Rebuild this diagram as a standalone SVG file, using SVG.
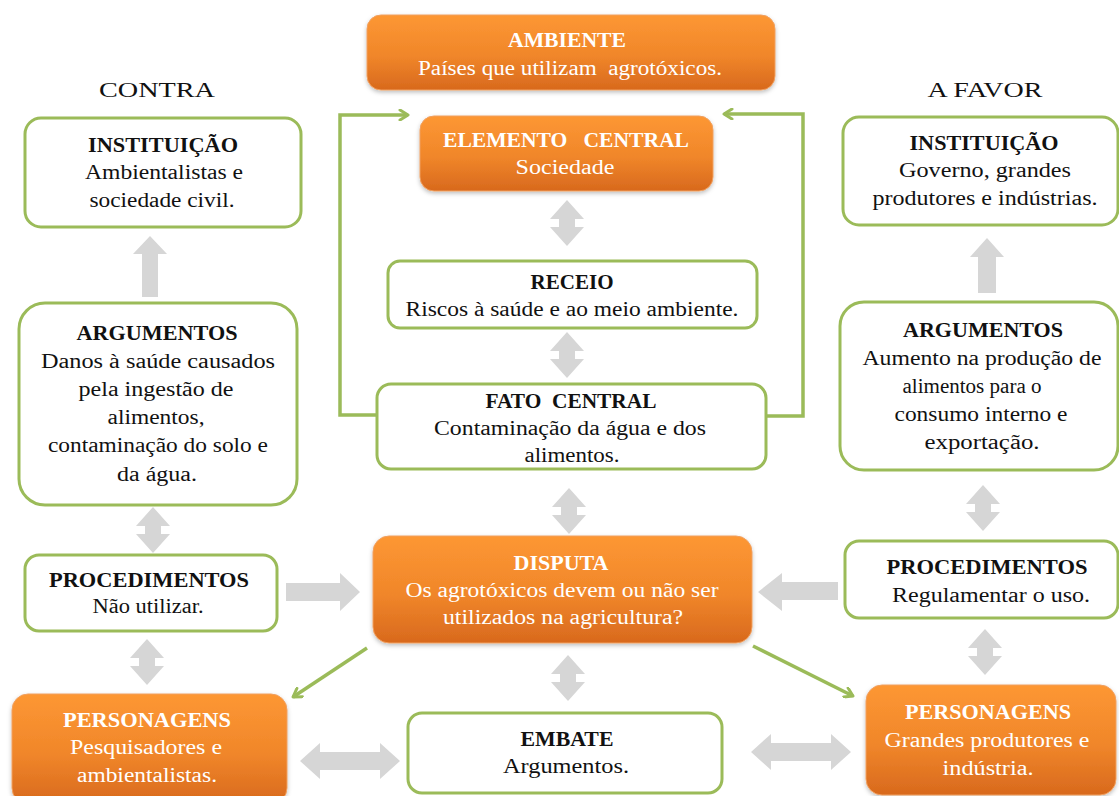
<svg xmlns="http://www.w3.org/2000/svg" width="1119" height="796" viewBox="0 0 1119 796">
  <defs>
    <linearGradient id="orangeFill" x1="0" y1="0" x2="0" y2="1">
      <stop offset="0" stop-color="#fd9733"/>
      <stop offset="0.55" stop-color="#f0862a"/>
      <stop offset="1" stop-color="#d8691d"/>
    </linearGradient>
    <filter id="shadow" x="-10%" y="-10%" width="120%" height="130%">
      <feDropShadow dx="0" dy="2" stdDeviation="2" flood-color="#000" flood-opacity="0.25"/>
    </filter>
    <marker id="chev" viewBox="0 0 12 12" refX="10" refY="6" markerWidth="12" markerHeight="12" markerUnits="userSpaceOnUse" orient="auto">
      <path d="M2,1 L10,6 L2,11" fill="none" stroke="#9bbb59" stroke-width="3" stroke-linecap="round" stroke-linejoin="round"/>
    </marker>
    <!-- gray block arrows, drawn around the origin -->
    <path id="dblV" d="M0,-23 L17,-4 L8,-4 L8,4 L17,4 L0,23 L-17,4 L-8,4 L-8,-4 L-17,-4 Z"/>
    <path id="dblH" d="M-50,0 L-30,-18 L-30,-9 L30,-9 L30,-18 L50,0 L30,18 L30,9 L-30,9 L-30,18 Z"/>
  </defs>
  <style>
    .box { fill: #ffffff; stroke: #9bbb59; stroke-width: 3; }
    .obox { fill: url(#orangeFill); stroke: #f0a060; stroke-width: 1; filter: url(#shadow); }
    text { font-family: "Liberation Serif", "Times New Roman", serif; font-size: 20px; text-anchor: middle; white-space: pre; }
    .t { font-weight: bold; fill: #111111; }
    .s { fill: #111111; }
    .ot { font-weight: bold; fill: #ffffff; }
    .os { fill: #ffffff; }
    .hd { font-size: 22px; fill: #111111; }
    .gray { fill: #d6d6d6; }
    .green { fill: none; stroke: #9bbb59; stroke-width: 3.5; stroke-linejoin: miter; marker-end: url(#chev); }
  </style>
  <rect width="1119" height="796" fill="#ffffff"/>

  <text class="hd" x="157" y="97" textLength="116" lengthAdjust="spacingAndGlyphs">CONTRA</text>
  <text class="hd" x="985" y="97" textLength="115" lengthAdjust="spacingAndGlyphs">A FAVOR</text>

  <g id="connectors">
    <!-- single block arrows -->
    <path class="gray" d="M150,236 L167,254 L158,254 L158,297 L142,297 L142,254 L133,254 Z"/>
    <path class="gray" d="M987,238 L1004,257 L996,257 L996,293 L978,293 L978,257 L970,257 Z"/>
    <path class="gray" d="M286,583 L340,583 L340,573 L360,592 L340,611 L340,601 L286,601 Z"/>
    <path class="gray" d="M838,582 L782,582 L782,573 L758,592 L782,611 L782,600 L838,600 Z"/>
    <!-- double vertical arrows -->
    <use href="#dblV" class="gray" transform="translate(567,223)"/>
    <use href="#dblV" class="gray" transform="translate(567,355)"/>
    <use href="#dblV" class="gray" transform="translate(569,511)"/>
    <use href="#dblV" class="gray" transform="translate(568,678)"/>
    <use href="#dblV" class="gray" transform="translate(153,530)"/>
    <use href="#dblV" class="gray" transform="translate(147,662)"/>
    <use href="#dblV" class="gray" transform="translate(983,508)"/>
    <use href="#dblV" class="gray" transform="translate(985,652)"/>
    <!-- double horizontal arrows -->
    <use href="#dblH" class="gray" transform="translate(350,761)"/>
    <use href="#dblH" class="gray" transform="translate(801,752)"/>
    <!-- green feedback lines -->
    <polyline class="green" points="376,415 340,415 340,115 408,115"/>
    <polyline class="green" points="767,416 803,416 803,114 724,114"/>
    <line class="green" x1="367" y1="648" x2="293" y2="697"/>
    <line class="green" x1="753" y1="646" x2="853" y2="696"/>
  </g>

  <g id="ambiente">
    <rect class="obox" x="367" y="15" width="408" height="75" rx="14"/>
    <text class="ot" x="567" y="47" textLength="118" lengthAdjust="spacingAndGlyphs">AMBIENTE</text>
    <text class="os" x="570" y="75" textLength="304" lengthAdjust="spacingAndGlyphs">Países que utilizam  agrotóxicos.</text>
  </g>

  <g id="elemento-central">
    <rect class="obox" x="420" y="116" width="293" height="75" rx="14"/>
    <text class="ot" x="566" y="147" textLength="246" lengthAdjust="spacingAndGlyphs">ELEMENTO   CENTRAL</text>
    <text class="os" x="565" y="174" textLength="99" lengthAdjust="spacingAndGlyphs">Sociedade</text>
  </g>

  <g id="receio">
    <rect class="box" x="388" y="261" width="369" height="67" rx="12"/>
    <text class="t" x="572" y="289" textLength="83" lengthAdjust="spacingAndGlyphs">RECEIO</text>
    <text class="s" x="572" y="316" textLength="333" lengthAdjust="spacingAndGlyphs">Riscos à saúde e ao meio ambiente.</text>
  </g>

  <g id="fato-central">
    <rect class="box" x="377" y="384" width="389" height="85" rx="14"/>
    <text class="t" x="571" y="408" textLength="171" lengthAdjust="spacingAndGlyphs">FATO  CENTRAL</text>
    <text class="s" x="570" y="435" textLength="272" lengthAdjust="spacingAndGlyphs">Contaminação da água e dos</text>
    <text class="s" x="572" y="462" textLength="95" lengthAdjust="spacingAndGlyphs">alimentos.</text>
  </g>

  <g id="disputa">
    <rect class="obox" x="373" y="536" width="379" height="107" rx="16"/>
    <text class="ot" x="561" y="570" textLength="95" lengthAdjust="spacingAndGlyphs">DISPUTA</text>
    <text class="os" x="562" y="597" textLength="313" lengthAdjust="spacingAndGlyphs">Os agrotóxicos devem ou não ser</text>
    <text class="os" x="563" y="624" textLength="240" lengthAdjust="spacingAndGlyphs">utilizados na agricultura?</text>
  </g>

  <g id="embate">
    <rect class="box" x="408" y="713" width="314" height="80" rx="14"/>
    <text class="t" x="567" y="746" textLength="93" lengthAdjust="spacingAndGlyphs">EMBATE</text>
    <text class="s" x="566" y="773" textLength="126" lengthAdjust="spacingAndGlyphs">Argumentos.</text>
  </g>

  <g id="instituicao-contra">
    <rect class="box" x="25" y="118" width="276" height="109" rx="16"/>
    <text class="t" x="163" y="152" textLength="150" lengthAdjust="spacingAndGlyphs">INSTITUIÇÃO</text>
    <text class="s" x="164" y="179" textLength="158" lengthAdjust="spacingAndGlyphs">Ambientalistas e</text>
    <text class="s" x="162" y="207" textLength="145" lengthAdjust="spacingAndGlyphs">sociedade civil.</text>
  </g>

  <g id="argumentos-contra">
    <rect class="box" x="19" y="303" width="278" height="202" rx="26"/>
    <text class="t" x="157" y="340" textLength="161" lengthAdjust="spacingAndGlyphs">ARGUMENTOS</text>
    <text class="s" x="158" y="368" textLength="234" lengthAdjust="spacingAndGlyphs">Danos à saúde causados</text>
    <text class="s" x="156" y="396" textLength="155" lengthAdjust="spacingAndGlyphs">pela ingestão de</text>
    <text class="s" x="156" y="424" textLength="97" lengthAdjust="spacingAndGlyphs">alimentos,</text>
    <text class="s" x="158" y="452" textLength="220" lengthAdjust="spacingAndGlyphs">contaminação do solo e</text>
    <text class="s" x="157" y="481" textLength="80" lengthAdjust="spacingAndGlyphs">da água.</text>
  </g>

  <g id="procedimentos-contra">
    <rect class="box" x="25" y="555" width="252" height="76" rx="14"/>
    <text class="t" x="149" y="587" textLength="200" lengthAdjust="spacingAndGlyphs">PROCEDIMENTOS</text>
    <text class="s" x="148" y="613" textLength="111" lengthAdjust="spacingAndGlyphs">Não utilizar.</text>
  </g>

  <g id="personagens-contra">
    <rect class="obox" x="12" y="694" width="275" height="110" rx="16"/>
    <text class="ot" x="147" y="727" textLength="168" lengthAdjust="spacingAndGlyphs">PERSONAGENS</text>
    <text class="os" x="146" y="754" textLength="152" lengthAdjust="spacingAndGlyphs">Pesquisadores e</text>
    <text class="os" x="147" y="782" textLength="140" lengthAdjust="spacingAndGlyphs">ambientalistas.</text>
  </g>

  <g id="instituicao-favor">
    <rect class="box" x="843" y="117" width="275" height="108" rx="16"/>
    <text class="t" x="984" y="150" textLength="149" lengthAdjust="spacingAndGlyphs">INSTITUIÇÃO</text>
    <text class="s" x="985" y="177" textLength="172" lengthAdjust="spacingAndGlyphs">Governo, grandes</text>
    <text class="s" x="985" y="205" textLength="225" lengthAdjust="spacingAndGlyphs">produtores e indústrias.</text>
  </g>

  <g id="argumentos-favor">
    <rect class="box" x="840" y="302" width="278" height="168" rx="24"/>
    <text class="t" x="983" y="337" textLength="160" lengthAdjust="spacingAndGlyphs">ARGUMENTOS</text>
    <text class="s" x="982" y="365" textLength="239" lengthAdjust="spacingAndGlyphs">Aumento na produção de</text>
    <text class="s" x="972" y="393" textLength="139" lengthAdjust="spacingAndGlyphs">alimentos para o</text>
    <text class="s" x="981" y="421" textLength="173" lengthAdjust="spacingAndGlyphs">consumo interno e</text>
    <text class="s" x="982" y="449" textLength="115" lengthAdjust="spacingAndGlyphs">exportação.</text>
  </g>

  <g id="procedimentos-favor">
    <rect class="box" x="845" y="541" width="273" height="77" rx="14"/>
    <text class="t" x="987" y="574" textLength="201" lengthAdjust="spacingAndGlyphs">PROCEDIMENTOS</text>
    <text class="s" x="991" y="602" textLength="198" lengthAdjust="spacingAndGlyphs">Regulamentar o uso.</text>
  </g>

  <g id="personagens-favor">
    <rect class="obox" x="866" y="685" width="250" height="110" rx="16"/>
    <text class="ot" x="988" y="719" textLength="166" lengthAdjust="spacingAndGlyphs">PERSONAGENS</text>
    <text class="os" x="987" y="747" textLength="205" lengthAdjust="spacingAndGlyphs">Grandes produtores e</text>
    <text class="os" x="988" y="775" textLength="91" lengthAdjust="spacingAndGlyphs">indústria.</text>
  </g>
</svg>
